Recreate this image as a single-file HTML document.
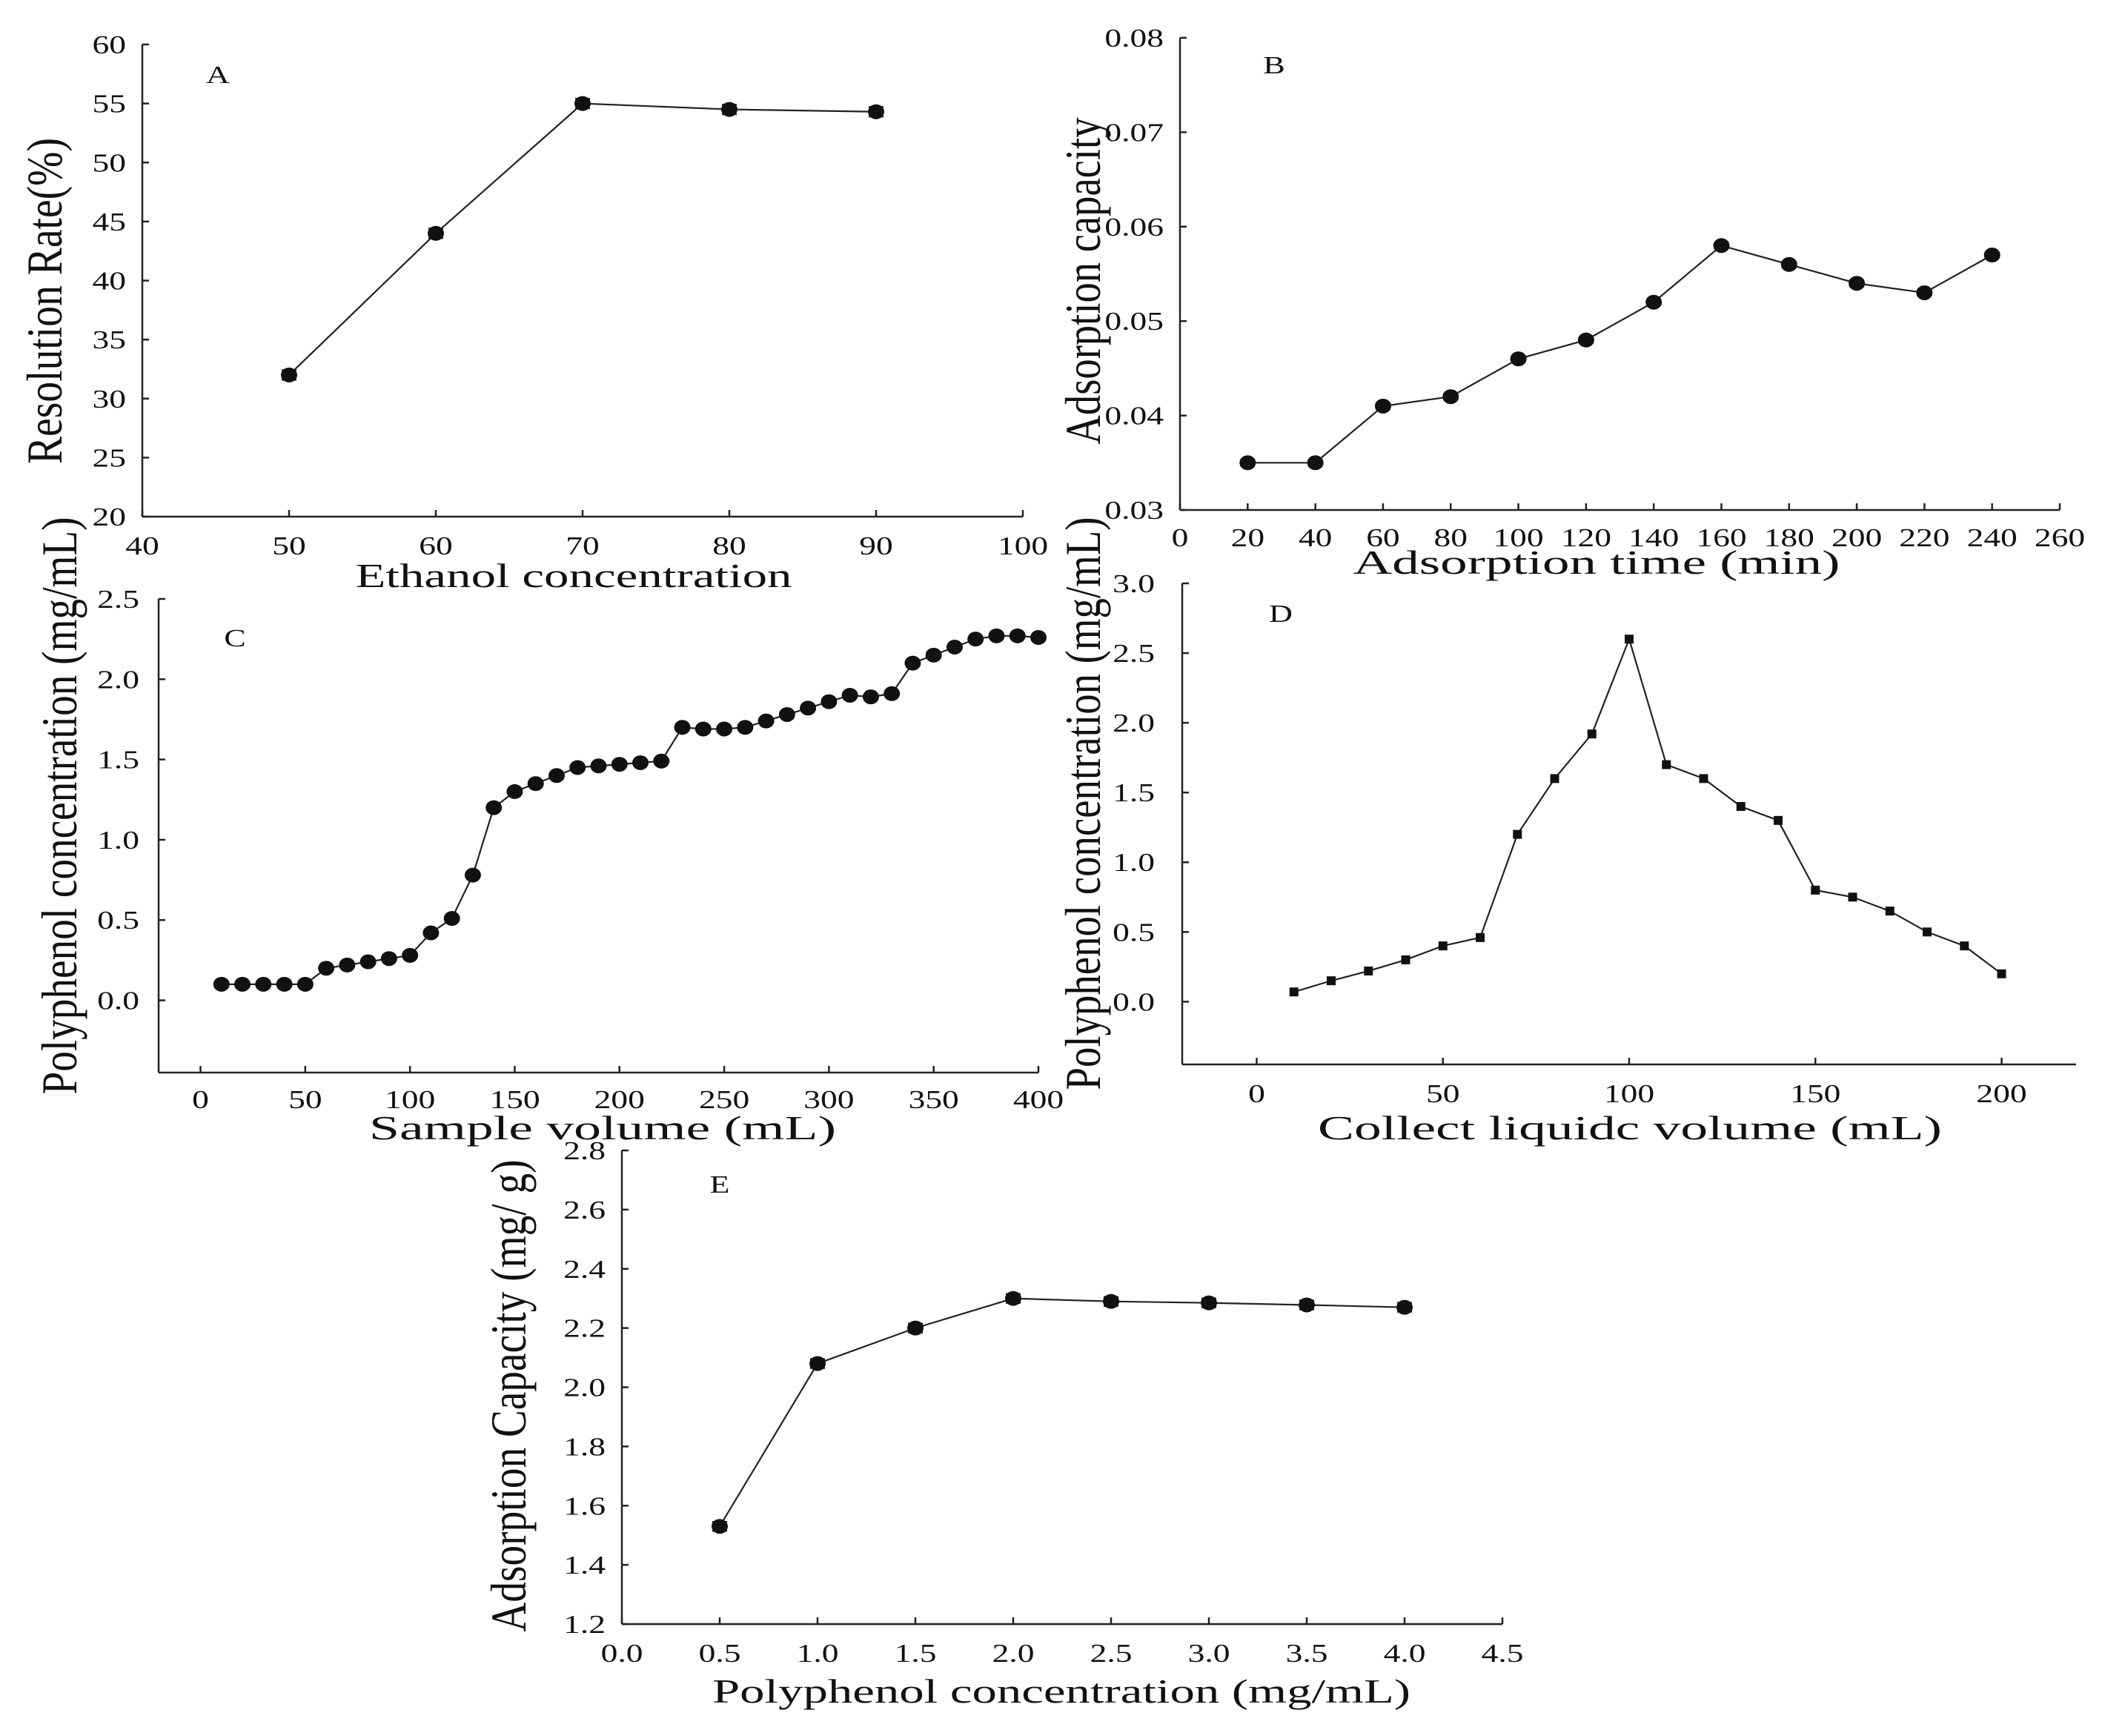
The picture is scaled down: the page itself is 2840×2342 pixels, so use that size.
<!DOCTYPE html>
<html><head><meta charset="utf-8"><style>
html,body{margin:0;padding:0;background:#fff}
svg{display:block}
text{font-family:"Liberation Serif",serif;fill:#111}
</style></head><body>
<svg id="fig" width="2840" height="2342" viewBox="0 0 2840 2342" xmlns="http://www.w3.org/2000/svg"></svg>
<script>
// ---- Data ----
const xA = [50, 60, 70, 80, 90];
const yA = [32, 44, 55, 54.5, 54.3];
const eA = [0.4, 0.4, 0.4, 0.4, 0.4];
const xTicksA = [40, 50, 60, 70, 80, 90, 100];
const yTicksA = [20, 25, 30, 35, 40, 45, 50, 55, 60];

const xB = [20, 40, 60, 80, 100, 120, 140, 160, 180, 200, 220, 240];
const yB = [0.035, 0.035, 0.041, 0.042, 0.046, 0.048, 0.052, 0.058, 0.056, 0.054, 0.053, 0.057];
const eB = [0.0003, 0.0003, 0.0003, 0.0003, 0.0003, 0.0003, 0.0003, 0.0003, 0.0003, 0.0003, 0.0003, 0.0003];
const xTicksB = [0, 20, 40, 60, 80, 100, 120, 140, 160, 180, 200, 220, 240, 260];
const yTicksB = [0.03, 0.04, 0.05, 0.06, 0.07, 0.08];
const yLabelsB = ["0.03", "0.04", "0.05", "0.06", "0.07", "0.08"];

const xC = [10,20,30,40,50,60,70,80,90,100,110,120,130,140,150,160,170,180,190,200,210,220,230,240,250,260,270,280,290,300,310,320,330,340,350,360,370,380,390,400];
const yC = [0.1,0.1,0.1,0.1,0.1,0.2,0.22,0.24,0.26,0.28,0.42,0.51,0.78,1.2,1.3,1.35,1.4,1.45,1.46,1.47,1.48,1.49,1.7,1.69,1.69,1.7,1.74,1.78,1.82,1.86,1.9,1.89,1.91,2.1,2.15,2.2,2.25,2.27,2.27,2.26];
const xTicksC = [0, 50, 100, 150, 200, 250, 300, 350, 400];
const yTicksC = [0, 0.5, 1.0, 1.5, 2.0, 2.5];
const yLabelsC = ["0.0", "0.5", "1.0", "1.5", "2.0", "2.5"];

const xD = [10,20,30,40,50,60,70,80,90,100,110,120,130,140,150,160,170,180,190,200];
const yD = [0.07,0.15,0.22,0.3,0.4,0.46,1.2,1.6,1.92,2.6,1.7,1.6,1.4,1.3,0.8,0.75,0.65,0.5,0.4,0.2];
const xTicksD = [0, 50, 100, 150, 200];
const yTicksD = [0, 0.5, 1.0, 1.5, 2.0, 2.5, 3.0];
const yLabelsD = ["0.0", "0.5", "1.0", "1.5", "2.0", "2.5", "3.0"];

const xE = [0.5, 1.0, 1.5, 2.0, 2.5, 3.0, 3.5, 4.0];
const yE = [1.53, 2.08, 2.2, 2.3, 2.29, 2.285, 2.278, 2.27];
const eE = [0.015, 0.015, 0.015, 0.015, 0.015, 0.015, 0.015, 0.015];
const xTicksE = [0, 0.5, 1.0, 1.5, 2.0, 2.5, 3.0, 3.5, 4.0, 4.5];
const xLabelsE = ["0.0","0.5","1.0","1.5","2.0","2.5","3.0","3.5","4.0","4.5"];
const yTicksE = [1.2, 1.4, 1.6, 1.8, 2.0, 2.2, 2.4, 2.6, 2.8];
const yLabelsE = ["1.2","1.4","1.6","1.8","2.0","2.2","2.4","2.6","2.8"];

const NS = "http://www.w3.org/2000/svg";
const svg = document.getElementById('fig');

function mk(tag, parent, attrs) {
  const e = document.createElementNS(NS, tag);
  for (const k in attrs) e.setAttribute(k, attrs[k]);
  parent.appendChild(e);
  return e;
}
function txt(parent, x, y, s, size, anchor, sx, name) {
  const t = mk('text', parent, {x: 0, y: 0, 'font-size': size, 'text-anchor': anchor,
    transform: 'translate(' + x + ',' + y + ') scale(' + sx + ',1)'});
  
  
  t.textContent = s;
  return t;
}
function titleX(parent, cx, by, s, len, name) {
  const t = mk('text', parent, {x: cx, y: by, 'font-size': 46, 'text-anchor': 'middle',
    textLength: len, lengthAdjust: 'spacingAndGlyphs'});
  
  
  t.textContent = s;
}
function titleY(parent, cx, cy, s, len, name) {
  const t = mk('text', parent, {x: 0, y: 0, 'font-size': 68, 'text-anchor': 'middle',
    'dominant-baseline': 'central', textLength: len, lengthAdjust: 'spacingAndGlyphs',
    transform: 'translate(' + cx + ',' + cy + ') rotate(-90)'});
  
  
  t.textContent = s;
}

function chart(c) {
  const g = mk('g', svg, {});
  
  
  const sx = v => c.px0 + (v - c.xmin) / (c.xmax - c.xmin) * (c.px1 - c.px0);
  const sy = v => c.py0 - (v - c.ymin) / (c.ymax - c.ymin) * (c.py0 - c.py1);
  const ax = mk('line', g, {x1: c.px0, y1: c.py0, x2: c.px1, y2: c.py0, stroke: '#222', 'stroke-width': 2.5});
  
  
  const ay = mk('line', g, {x1: c.px0, y1: c.py0, x2: c.px0, y2: c.py1, stroke: '#222', 'stroke-width': 2.5});
  
  
  c.xt.forEach((v, i) => {
    const x = sx(v);
    const tk = mk('line', g, {x1: x, y1: c.py0, x2: x, y2: c.py0 - 9, stroke: '#222', 'stroke-width': 2.5});
    
    
    txt(g, x, c.xlY, c.xl ? c.xl[i] : String(v), 35, 'middle', 1.3, 'x-tick-label');
  });
  c.yt.forEach((v, i) => {
    const y = sy(v);
    const tk = mk('line', g, {x1: c.px0, y1: y, x2: c.px0 + 9, y2: y, stroke: '#222', 'stroke-width': 2.5});
    
    
    txt(g, c.ylX, y + 12, c.yl ? c.yl[i] : String(v), 35, 'end', 1.3, 'y-tick-label');
  });
  const pts = c.xs.map((v, i) => sx(v) + ',' + sy(c.ys[i])).join(' ');
  const pl = mk('polyline', g, {points: pts, fill: 'none', stroke: '#222', 'stroke-width': 2.2});
  
  
  c.xs.forEach((v, i) => {
    const x = sx(v), y = sy(c.ys[i]);
    if (c.es) {
      const yt = sy(c.ys[i] + c.es[i]), yb = sy(c.ys[i] - c.es[i]);
      const eb = mk('path', g, {d: 'M' + (x - 10) + ',' + yt + 'H' + (x + 10) + 'M' + x + ',' + yt + 'V' + yb + 'M' + (x - 10) + ',' + yb + 'H' + (x + 10), stroke: '#222', 'stroke-width': 2.5, fill: 'none'});
      
      
    }
    let m;
    if (c.square) {
      m = mk('rect', g, {x: x - 6, y: y - 6, width: 12, height: 12, fill: '#111'});
    } else {
      m = mk('ellipse', g, {cx: x, cy: y, rx: c.r * 1.1, ry: c.r, fill: '#111'});
    }
    
    
  });
  txt(g, c.lab[0], c.lab[1], c.lab[2], 34, 'middle', 1.3, 'panel-label');
  titleX(g, c.xT[0], c.xT[1], c.xT[2], c.xT[3], 'x-axis-title');
  titleY(g, c.yT[0], c.yT[1], c.yT[2], c.yT[3], 'y-axis-title');
}

chart({name: 'chart-a', px0: 192, px1: 1380, py0: 697, py1: 60, xmin: 40, xmax: 100, ymin: 20, ymax: 60,
  xs: xA, ys: yA, es: eA, xt: xTicksA, yt: yTicksA, xlY: 748, ylX: 170, r: 10,
  lab: [294, 112, 'A'], xT: [774, 792, 'Ethanol concentration', 589], yT: [60, 406, 'Resolution Rate(%)', 440]});
chart({name: 'chart-b', px0: 1592, px1: 2779, py0: 688, py1: 51, xmin: 0, xmax: 260, ymin: 0.03, ymax: 0.08,
  xs: xB, ys: yB, es: eB, xt: xTicksB, yt: yTicksB, yl: yLabelsB, xlY: 737, ylX: 1570, r: 10,
  lab: [1719, 99, 'B'], xT: [2154, 774, 'Adsorption time (min)', 657], yT: [1461, 379, 'Adsorption capacity', 441]});
chart({name: 'chart-c', px0: 214, px1: 1401, py0: 1447, py1: 808, xmin: -20, xmax: 400, ymin: -0.45, ymax: 2.5,
  xs: xC, ys: yC, es: null, xt: xTicksC, yt: yTicksC, yl: yLabelsC, xlY: 1495, ylX: 188, r: 10,
  lab: [317, 872, 'C'], xT: [813, 1537, 'Sample volume (mL)', 630], yT: [80, 1087, 'Polyphenol concentration (mg/mL)', 779]});
chart({name: 'chart-d', px0: 1595, px1: 2801, py0: 1436, py1: 787, xmin: -20, xmax: 220, ymin: -0.45, ymax: 3.0,
  xs: xD, ys: yD, es: null, square: true, xt: xTicksD, yt: yTicksD, yl: yLabelsD, xlY: 1487, ylX: 1558, r: 6,
  lab: [1728, 839, 'D'], xT: [2199, 1537, 'Collect liquidc volume (mL)', 842], yT: [1461, 1084, 'Polyphenol concentration (mg/mL)', 773]});
chart({name: 'chart-e', px0: 839, px1: 2027, py0: 2191, py1: 1552, xmin: 0, xmax: 4.5, ymin: 1.2, ymax: 2.8,
  xs: xE, ys: yE, es: eE, xt: xTicksE, xl: xLabelsE, yt: yTicksE, yl: yLabelsE, xlY: 2242, ylX: 817, r: 10,
  lab: [971, 1609, 'E'], xT: [1432, 2297, 'Polyphenol concentration (mg/mL)', 942], yT: [686, 1883, 'Adsorption Capacity (mg/ g)', 637]});
</script>
</body></html>
